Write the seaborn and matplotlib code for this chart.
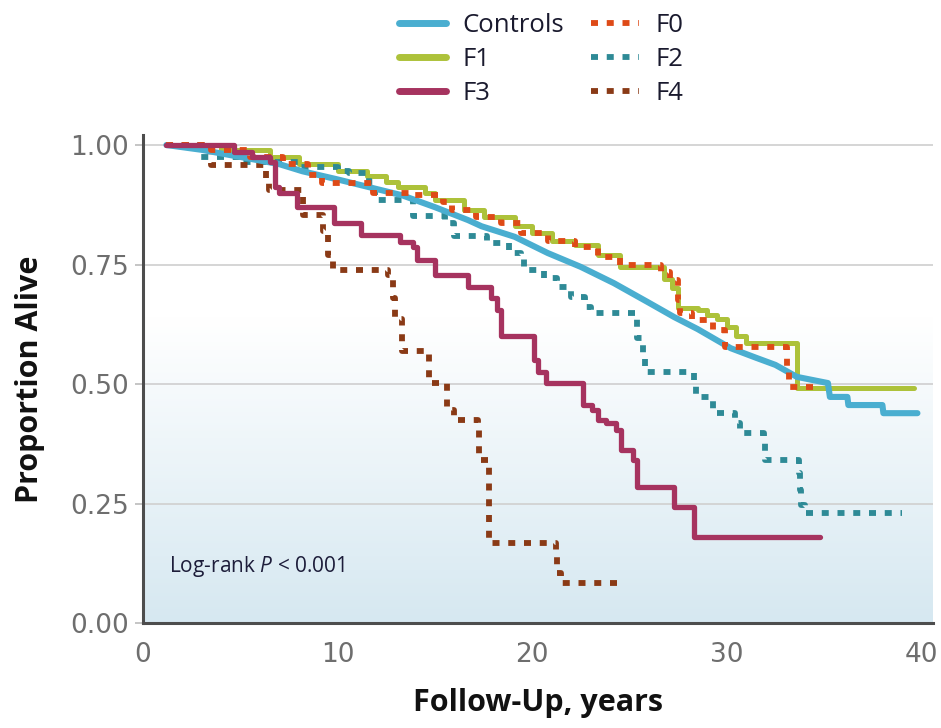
import numpy as np
import pandas as pd
import matplotlib
matplotlib.use("Agg")
import matplotlib.pyplot as plt
from matplotlib.lines import Line2D
from matplotlib.colors import LinearSegmentedColormap
import seaborn as sns

# ---------------- data ----------------
controls_t = [1.2, 3.0, 5.0, 7.0, 8.2, 10.0, 11.6, 13.3, 15.0, 16.7, 17.4, 19.1, 20.8, 22.5, 24.2, 26.0,
              27.3, 28.5, 30.2, 31.5, 32.5, 33.6, 35.2, 35.3, 36.2, 36.25, 38.0, 38.05, 39.8]
controls_s = [1.0, 0.99, 0.975, 0.96, 0.945, 0.928, 0.912, 0.895, 0.87, 0.843, 0.83, 0.808, 0.774, 0.745,
              0.711, 0.67, 0.64, 0.615, 0.575, 0.555, 0.54, 0.515, 0.502, 0.473, 0.473, 0.456, 0.456,
              0.439, 0.439]

f0_t = [1.2, 3.5, 5.5, 7.2, 8.5, 9.2, 11.8, 14.0, 15.4, 15.9, 17.1, 18.4, 19.4, 20.8, 22.2, 23.4,
        24.5, 26.6, 27.1, 27.5, 27.6, 28.2, 29.3, 29.9, 33.1, 33.2, 34.7]
f0_s = [1.0, 0.99, 0.975, 0.96, 0.937, 0.92, 0.90, 0.895, 0.88, 0.864, 0.85, 0.837, 0.816, 0.80,
        0.787, 0.766, 0.749, 0.734, 0.718, 0.676, 0.649, 0.634, 0.613, 0.577, 0.536, 0.494, 0.494]

f1_t = [1.2, 4.0, 6.5, 8.0, 10.0, 11.5, 12.5, 13.1, 14.5, 15.0, 16.5, 17.5, 19.1, 20.0, 21.0, 22.2,
        23.4, 24.5, 26.8, 27.2, 27.5, 28.5, 29.0, 29.5, 30.0, 30.5, 31.0, 33.6, 39.6]
f1_s = [1.0, 0.99, 0.975, 0.96, 0.945, 0.935, 0.923, 0.912, 0.90, 0.885, 0.865, 0.85, 0.83, 0.815,
        0.80, 0.79, 0.77, 0.745, 0.72, 0.70, 0.659, 0.655, 0.645, 0.635, 0.62, 0.60, 0.586, 0.492, 0.492]

f2_t = [1.2, 2.8, 5.0, 8.0, 10.0, 10.6, 11.6, 11.9, 13.9, 15.5, 16.0, 17.7, 18.8, 19.4, 19.6, 20.6,
        21.3, 22.0, 22.7, 23.0, 25.4, 25.7, 25.8, 28.3, 28.4, 29.3, 30.4, 30.7, 31.9, 31.95, 33.7, 33.75,
        33.8, 34.0, 39.0]
f2_s = [1.0, 0.975, 0.965, 0.955, 0.945, 0.941, 0.923, 0.885, 0.852, 0.836, 0.81, 0.795, 0.774, 0.764,
        0.738, 0.722, 0.703, 0.682, 0.661, 0.649, 0.596, 0.556, 0.525, 0.502, 0.473, 0.439, 0.418, 0.397,
        0.377, 0.341, 0.314, 0.278, 0.247, 0.230, 0.230]

f3_t = [1.2, 4.7, 5.6, 6.5, 6.8, 7.0, 7.9, 9.8, 11.2, 13.2, 13.9, 14.1, 15.0, 16.7, 17.9, 18.2, 18.4,
        20.1, 20.3, 20.7, 22.6, 23.1, 23.4, 23.8, 24.3, 24.55, 25.2, 25.4, 27.3, 28.3, 34.8]
f3_s = [1.0, 0.985, 0.975, 0.965, 0.912, 0.90, 0.87, 0.837, 0.812, 0.797, 0.787, 0.759, 0.728, 0.703,
        0.68, 0.655, 0.60, 0.55, 0.525, 0.502, 0.456, 0.446, 0.425, 0.418, 0.404, 0.362, 0.341, 0.285,
        0.243, 0.18, 0.18]

f4_t = [1.2, 3.5, 6.3, 6.45, 8.2, 9.25, 9.5, 9.75, 12.6, 12.85, 12.95, 13.3, 14.7, 15.6, 16.0, 17.2,
        17.25, 17.8, 21.2, 21.3, 21.5, 24.6]
f4_s = [1.0, 0.958, 0.93, 0.906, 0.854, 0.82, 0.77, 0.738, 0.728, 0.68, 0.635, 0.57, 0.502, 0.446, 0.425,
        0.41, 0.34, 0.167, 0.138, 0.105, 0.083, 0.083]

x_ticks = [0, 10, 20, 30, 40]
y_ticks = [0.0, 0.25, 0.5, 0.75, 1.0]
y_ticklabels = ["0.00", "0.25", "0.50", "0.75", "1.00"]

# ---------------- styling ----------------
sns.set_style("white")
plt.rcParams["font.family"] = ["DejaVu Sans"]
plt.rcParams["mathtext.fontset"] = "custom"
plt.rcParams["mathtext.rm"] = "Open Sans"
plt.rcParams["mathtext.it"] = "Open Sans:italic"

C_CTRL = "#4aaed0"
C_F0 = "#de4a17"
C_F1 = "#adc23a"
C_F2 = "#2e8a96"
C_F3 = "#a6335f"
C_F4 = "#8a3a16"
DOT = (0, (1.2, 1.5))

fig = plt.figure(figsize=(9.41, 7.28), dpi=100)
ax = fig.add_axes([0.152, 0.1442, 0.8395, 0.6704])

XMAX = 40.6
YMAX = 1.021

# background gradient (white top -> light blue bottom)
cmap = LinearSegmentedColormap.from_list(
    "bg", [(0.0, "#d6e8f1"), (0.62, "#ffffff"), (1.0, "#ffffff")])
grad = np.linspace(0, 1, 256).reshape(-1, 1)
ax.imshow(grad, extent=[0, XMAX, 0, YMAX], origin="lower", aspect="auto",
          cmap=cmap, zorder=0, interpolation="bicubic")

series = [
    ("F1", f1_t, f1_s, C_F1, "-", 3.6),
    ("F2", f2_t, f2_s, C_F2, DOT, 4.2),
    ("F4", f4_t, f4_s, C_F4, DOT, 4.2),
    ("Controls", controls_t, controls_s, C_CTRL, "-", 4.4),
    ("F0", f0_t, f0_s, C_F0, DOT, 4.2),
    ("F3", f3_t, f3_s, C_F3, "-", 3.8),
]
for name, t, s, col, ls, lw in series:
    df = pd.DataFrame({"t": t, "s": s})
    kw = dict(drawstyle="steps-post") if name != "Controls" else {}
    sns.lineplot(data=df, x="t", y="s", ax=ax, color=col, linestyle=ls, linewidth=lw,
                 estimator=None, sort=False, legend=False, zorder=3, **kw)

ax.set_xlim(0, XMAX)
ax.set_ylim(0, YMAX)
ax.set_xticks(x_ticks)
ax.set_yticks(y_ticks)
ax.set_yticklabels(y_ticklabels)
ax.yaxis.grid(True, color="#d2d2d2", linewidth=1.3, zorder=1)
ax.xaxis.grid(False)
ax.set_axisbelow(True)

for sp in ["top", "right"]:
    ax.spines[sp].set_visible(False)
for sp in ["left", "bottom"]:
    ax.spines[sp].set_color("#4d4d4d")
    ax.spines[sp].set_linewidth(2.2)
    ax.spines[sp].set_zorder(5)

ax.tick_params(axis="y", length=6, width=1.2, color="#bbbbbb", pad=4,
               labelsize=19, labelcolor="#6e6e6e", left=True)
ax.tick_params(axis="x", length=0, pad=14, labelsize=19, labelcolor="#6e6e6e")

ax.set_xlabel("Follow-Up, years", fontsize=22, fontweight="bold", color="#111111",
              family=["Open Sans", "DejaVu Sans"], labelpad=14)
ax.set_ylabel("Proportion Alive", fontsize=22, fontweight="bold", color="#111111",
              family=["Open Sans", "DejaVu Sans"], labelpad=18)

ax.text(1.35, 0.118, r"Log-rank $P$ < 0.001", fontsize=15, color="#1d1d3a",
        family=["Open Sans", "DejaVu Sans"], va="center", ha="left", zorder=6)

handles = [
    Line2D([], [], color=C_CTRL, lw=5, ls="-"),
    Line2D([], [], color=C_F1, lw=5, ls="-"),
    Line2D([], [], color=C_F3, lw=5, ls="-"),
    Line2D([], [], color=C_F0, lw=4.2, ls=DOT),
    Line2D([], [], color=C_F2, lw=4.2, ls=DOT),
    Line2D([], [], color=C_F4, lw=4.2, ls=DOT),
]
labels = ["Controls", "F1", "F3", "F0", "F2", "F4"]
leg = fig.legend(handles, labels, ncol=2, loc="upper left", bbox_to_anchor=(0.399, 1.014),
                 frameon=False, handlelength=1.85, handletextpad=0.65, columnspacing=1.05,
                 labelspacing=0.36, prop={"family": ["Open Sans", "DejaVu Sans"], "size": 18.5})
for txt in leg.get_texts():
    txt.set_color("#1a1a2e")

fig.savefig("out.png", dpi=100)
